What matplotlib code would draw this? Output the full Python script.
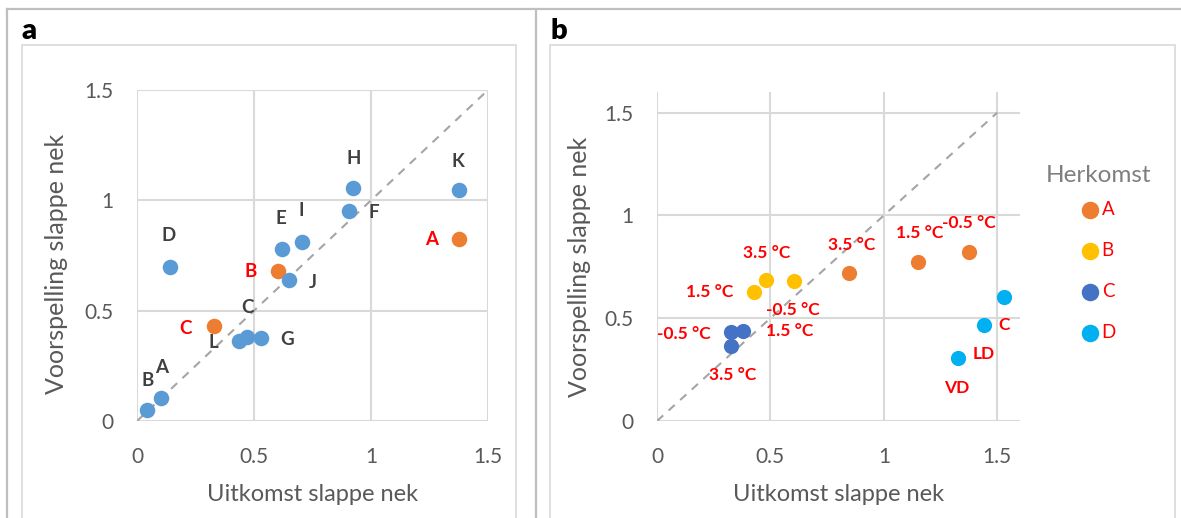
import numpy as np
import matplotlib.pyplot as plt
from matplotlib.lines import Line2D
from matplotlib.patches import Rectangle

plt.rcParams['font.family'] = ['Lato', 'DejaVu Sans']

# Paneel a: uitkomst vs voorspelling per herkomst
a_labels = ['B', 'A', 'D', 'C', 'L', 'C', 'G', 'B', 'J', 'E', 'I', 'F', 'H', 'K', 'A']
a_x = [0.044, 0.104, 0.14, 0.329, 0.436, 0.471, 0.53, 0.603, 0.651, 0.619, 0.707, 0.907, 0.924, 1.377, 1.377]
a_y = [0.05, 0.106, 0.70, 0.43, 0.364, 0.379, 0.374, 0.68, 0.638, 0.78, 0.812, 0.95, 1.055, 1.045, 0.824]
a_groep = ['blauw', 'blauw', 'blauw', 'oranje', 'blauw', 'blauw', 'blauw', 'oranje',
           'blauw', 'blauw', 'blauw', 'blauw', 'blauw', 'blauw', 'oranje']

# Paneel b: per herkomst en temperatuur
b_herkomst = ['A', 'B', 'C', 'D']
b_x = {'A': [0.848, 1.149, 1.377], 'B': [0.428, 0.48, 0.604],
       'C': [0.325, 0.38, 0.325], 'D': [1.53, 1.441, 1.326]}
b_y = {'A': [0.718, 0.773, 0.824], 'B': [0.627, 0.685, 0.682],
       'C': [0.432, 0.439, 0.363], 'D': [0.605, 0.466, 0.305]}
b_tekst = {'A': ['3.5 °C', '1.5 °C', '-0.5 °C'], 'B': ['1.5 °C', '3.5 °C', '-0.5 °C'],
           'C': ['-0.5 °C', '1.5 °C', '3.5 °C'], 'D': ['', 'C', 'LD']}
b_extra = ('D', 2, 'VD')

kleur_a = {'blauw': '#5B9BD5', 'oranje': '#ED7D31'}
kleur_b = {'A': '#ED7D31', 'B': '#FFC000', 'C': '#4472C4', 'D': '#00B0F0'}

# label offsets (pixels) ten opzichte van het punt
off_a = [(0, 29), (0, 30), (-1, 31), (-28, -2), (-26, -2), (0, 30), (26, -1), (-27, -1),
         (23, -2), (-1, 30), (-1, 31), (25, -1), (0, 30), (-1, 29), (-28, 0)]
off_b = {'A': [(2, 28), (2, 29), (-1, 29)], 'B': [(-44, 0), (1, 27), (-1, -29)],
         'C': [(-47, -2), (46, 0), (2, -29)], 'D': [(0, 0), (20, 0), (26, 4)]}

W, H = 1181, 518
fig = plt.figure(figsize=(W / 100, H / 100), dpi=100)

grijs = '#595959'
rand = '#BFBFBF'
# buitenkader
fig.add_artist(Line2D([7 / W, 1], [1 - 9 / H, 1 - 9 / H], color=rand, lw=1.6))
fig.add_artist(Line2D([7 / W, 7 / W], [0, 1 - 9 / H], color=rand, lw=1.6))
fig.add_artist(Line2D([536 / W, 536 / W], [0, 1 - 9 / H], color=rand, lw=1.6))
# grafiekkaders
for x0, x1 in [(22, 516), (550, 1175)]:
    fig.add_artist(Rectangle((x0 / W, -0.01), (x1 - x0) / W, 1.01 - 45 / H,
                             fill=False, ec='#D9D9D9', lw=1.2))
fig.text(29.5 / W, 1 - 39 / H, 'a', fontsize=21, fontweight='heavy', va='baseline', ha='center')
fig.text(558.5 / W, 1 - 39 / H, 'b', fontsize=21, fontweight='heavy', va='baseline', ha='center')


def opmaak(ax, lim):
    ax.set_xlim(0, lim)
    ax.set_ylim(0, lim)
    ax.set_xticks([0, 0.5, 1, 1.5])
    ax.set_yticks([0, 0.5, 1, 1.5])
    ax.set_xticklabels(['0', '0.5', '1', '1.5'])
    ax.set_yticklabels(['0', '0.5', '1', '1.5'])
    ax.grid(True, color='#D9D9D9', lw=1.5)
    ax.set_axisbelow(True)
    for s in ax.spines.values():
        s.set_visible(False)
    ax.tick_params(length=0, labelsize=15, labelcolor=grijs)
    ax.tick_params(axis='x', pad=19)
    ax.tick_params(axis='y', pad=17)
    ax.plot([0, 1.5], [0, 1.5], ls=(0, (4, 3.5)), color='#A5A5A5', lw=1.5, zorder=1)
    ax.set_xlabel('Uitkomst slappe nek', fontsize=17, color=grijs)
    ax.set_ylabel('Voorspelling slappe nek', fontsize=18, color=grijs)


ax1 = fig.add_axes([137 / W, 1 - 421 / H, 351 / W, 331 / H])
opmaak(ax1, 1.5)
ax1.xaxis.set_label_coords(0.5, -(484 - 421) / 331)
ax1.yaxis.set_label_coords(-(137 - 68) / 351, 0.474)
for i in range(len(a_x)):
    ax1.scatter(a_x[i], a_y[i], s=125, color=kleur_a[a_groep[i]], zorder=3, lw=0)
    tc = '#FF0000' if a_groep[i] == 'oranje' else '#404040'
    ax1.annotate(a_labels[i], (a_x[i], a_y[i]), xytext=off_a[i], textcoords='offset pixels',
                 ha='center', va='center', fontsize=13.5, fontweight='bold', color=tc)

ax2 = fig.add_axes([657 / W, 1 - 421 / H, 363 / W, 329 / H])
opmaak(ax2, 1.6)
ax2.xaxis.set_label_coords(0.5, -(484 - 421) / 329)
ax2.yaxis.set_label_coords(-(657 - 591) / 363, 0.468)
for h in b_herkomst:
    ax2.scatter(b_x[h], b_y[h], s=120, color=kleur_b[h], zorder=3, lw=0, label=h)
    for j in range(3):
        if b_tekst[h][j]:
            ax2.annotate(b_tekst[h][j], (b_x[h][j], b_y[h][j]), xytext=off_b[h][j],
                         textcoords='offset pixels', ha='center', va='center',
                         fontsize=12.5, fontweight='bold', color='#FF0000')
h, j, t = b_extra
ax2.annotate(t, (b_x[h][j], b_y[h][j]), xytext=(-1, -30), textcoords='offset pixels',
             ha='center', va='center', fontsize=12.5, fontweight='bold', color='#FF0000')

leg = ax2.legend(loc='upper center', bbox_to_anchor=((1099 - 657) / 363, 0.817), frameon=False,
                 title='Herkomst', fontsize=13.5, title_fontsize=17.5, labelspacing=1.27,
                 handlelength=0.8, handletextpad=0.25, markerscale=1.15, alignment='center',
                 borderaxespad=0.3)
leg.get_title().set_color('#7F7F7F')
leg._legend_box.sep = 10.7
for txt in leg.get_texts():
    txt.set_color('#FF0000')

fig.savefig('out.png', dpi=100)
